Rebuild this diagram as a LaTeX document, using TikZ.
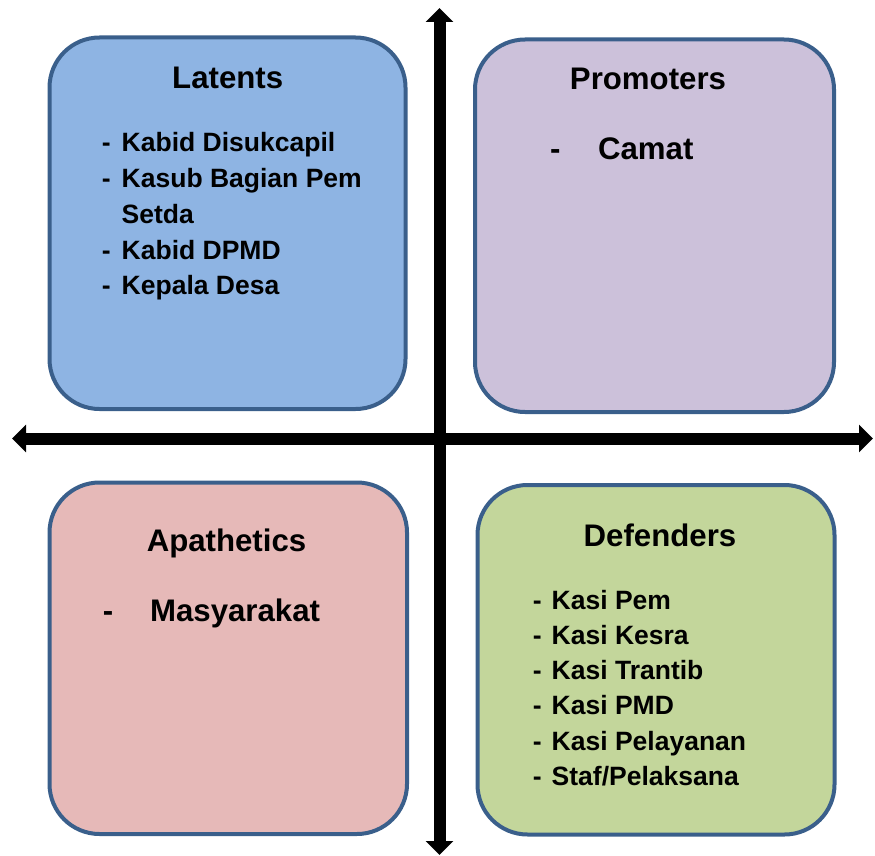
\documentclass[tikz,border=0pt]{standalone}
\usepackage{fontspec}
\setmainfont{Liberation Sans}
\usepackage{xcolor}
\usepackage{tikz}
\usetikzlibrary{arrows.meta}

\definecolor{edgeblue}{HTML}{3A5F8B}
\definecolor{latentfill}{HTML}{8EB4E3}
\definecolor{promofill}{HTML}{CCC1DA}
\definecolor{apathfill}{HTML}{E6B9B8}
\definecolor{defendfill}{HTML}{C3D69B}

\tikzset{
  quadbox/.style={draw=edgeblue, line width=4pt, rounded corners=50pt},
  titletext/.style={inner sep=0pt, anchor=base, font=\bfseries\fontsize{31.2}{36}\selectfont},
  itemlist/.style={inner sep=0pt, anchor=base west, align=left},
  axis/.style={line width=12pt, {Triangle[width=27pt,length=14pt]}-{Triangle[width=27pt,length=14pt]}}
}

\begin{document}
\begin{tikzpicture}[x=1pt,y=-1pt]
\useasboundingbox (0,0) rectangle (875,856);

% Latents
\filldraw[quadbox, fill=latentfill] (49.5,37.5) rectangle (405.5,409);
\node[titletext] (latents) at (227.7,88.3) {Latents};
\node[itemlist] (latentitems) at (101.7,151.7) {\bfseries\fontsize{26.5}{35.8}\selectfont
  \begin{tabular}[t]{@{}l@{\hspace{11pt}}l@{}}
  - & Kabid Disukcapil\\
  - & Kasub Bagian Pem\\
    & Setda\\
  - & Kabid DPMD\\
  - & Kepala Desa
  \end{tabular}};

% Promoters
\filldraw[quadbox, fill=promofill] (475,39.5) rectangle (834,412);
\node[titletext] (promoters) at (648,89.5) {Promoters};
\node[itemlist] (promoitems) at (550,160) {\bfseries\fontsize{31.2}{36}\selectfont
  \begin{tabular}[t]{@{}l@{\hspace{37.5pt}}l@{}}
  - & Camat
  \end{tabular}};

% Apathetics
\filldraw[quadbox, fill=apathfill] (49.5,482.5) rectangle (407,834);
\node[titletext] (apathetics) at (226.5,551) {Apathetics};
\node[itemlist] (apathitems) at (102.7,621.5) {\bfseries\fontsize{31.2}{36}\selectfont
  \begin{tabular}[t]{@{}l@{\hspace{36.8pt}}l@{}}
  - & Masyarakat
  \end{tabular}};

% Defenders
\filldraw[quadbox, fill=defendfill] (477.5,485) rectangle (834.5,834.5);
\node[titletext] (defenders) at (660,546) {Defenders};
\node[itemlist] (defenditems) at (532.7,609) {\bfseries\fontsize{26.5}{35.3}\selectfont
  \begin{tabular}[t]{@{}l@{\hspace{10pt}}l@{}}
  - & Kasi Pem\\
  - & Kasi Kesra\\
  - & Kasi Trantib\\
  - & Kasi PMD\\
  - & Kasi Pelayanan\\
  - & Staf/Pelaksana
  \end{tabular}};

% Axes
\coordinate (top) at (439.5,8);
\coordinate (bottom) at (439.5,855);
\coordinate (left) at (12,438.5);
\coordinate (right) at (873,438.5);
\draw[axis] (left) -- (right);
\draw[axis] (top) -- (bottom);

\end{tikzpicture}
\end{document}
